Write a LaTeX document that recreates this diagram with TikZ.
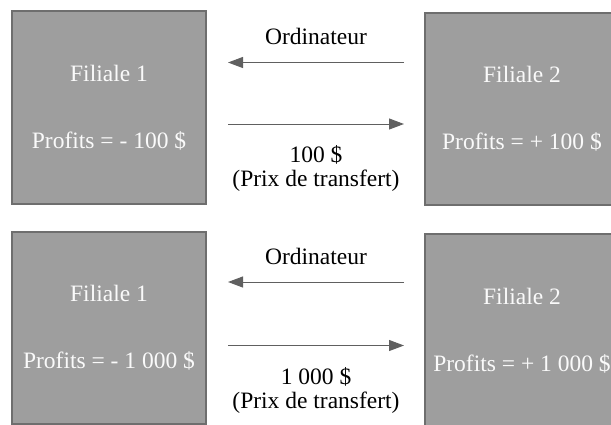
\documentclass[tikz,border=0pt]{standalone}
\usepackage{fontspec}
\setmainfont{Liberation Serif}
\usetikzlibrary{arrows.meta,positioning}
\definecolor{fond}{RGB}{158,158,158}
\definecolor{bord}{RGB}{110,110,110}
\definecolor{fleche}{RGB}{96,96,96}
\tikzset{x=1pt,y=-1pt,every node/.style={font=\fontsize{23.5}{24}\selectfont,inner sep=0pt},
  filiale/.style={draw=bord,line width=2pt,fill=fond,text=white!96!gray,minimum width=194pt,minimum height=193pt,align=center},
  flux/.style={-{Triangle[length=15pt,width=11pt]},draw=fleche,line width=1pt}}

\begin{document}
\begin{tikzpicture}
    \useasboundingbox (0,0) rectangle (611,424);
    \clip (0,0) rectangle (611,424);
    % prix de transfert 100 $
    \node[filiale] (f1) at (109,107.5) {Filiale 1\\[43pt]Profits = - 100 \$};
    \node[filiale,minimum height=192pt] (f2) at (522,109) {Filiale 2\\[43pt]Profits = + 100 \$};
    \coordinate (o1) at (404,62.5);
    \coordinate (o2) at (228,62.5);
    \coordinate (p1) at (228,124);
    \coordinate (p2) at (404,124);
    \path
    (o1) edge[flux] node[above=17pt] {Ordinateur} (o2)
    (p1) edge[flux] node[below=21pt,align=center] {100 \$\\(Prix de transfert)} (p2)
    ;
    % prix de transfert 1 000 $
    \node[filiale,minimum height=192pt] (f3) at (109,328) {Filiale 1\\[43pt]Profits = - 1 000 \$};
    \node[filiale,minimum height=194pt] (f4) at (522,331) {Filiale 2\\[43pt]Profits = + 1 000 \$};
    \coordinate (o3) at (404,282);
    \coordinate (o4) at (228,282);
    \coordinate (p3) at (228,345.5);
    \coordinate (p4) at (404,345.5);
    \path
    (o3) edge[flux] node[above=16.5pt] {Ordinateur} (o4)
    (p3) edge[flux] node[below=21pt,align=center] {1 000 \$\\(Prix de transfert)} (p4)
    ;
\end{tikzpicture}
\end{document}
